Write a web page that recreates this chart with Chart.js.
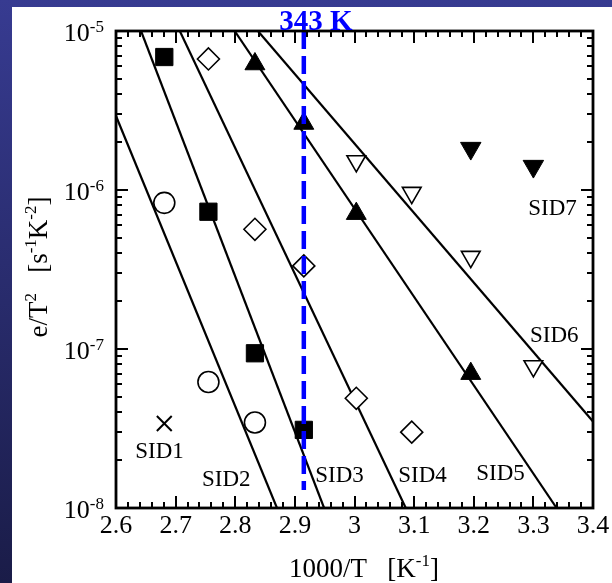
<!DOCTYPE html>
<html><head><meta charset="utf-8">
<script src="https://cdn.jsdelivr.net/npm/chart.js@4.4.0/dist/chart.umd.min.js"></script>
<style>html,body{margin:0;padding:0;background:#fff;overflow:hidden}#wrap{width:612px;height:583px;position:relative}</style>
</head><body><div id="wrap"><canvas id="c" width="612" height="583"></canvas></div>
<script>
// ---- data (x = 1000/T [1/K], y = e/T^2 [1/(s K^2)]) ----
const sid1X = [2.681];
const sid1Y = [3.4e-8];
const sid2X = [2.681, 2.755, 2.833];
const sid2Y = [8.3e-7, 6.2e-8, 3.45e-8];
const sid3X = [2.681, 2.755, 2.833, 2.915];
const sid3Y = [6.86e-6, 7.3e-7, 9.4e-8, 3.1e-8];
const sid4X = [2.755, 2.833, 2.915, 3.003, 3.096];
const sid4Y = [6.67e-6, 5.66e-7, 3.33e-7, 4.9e-8, 3.0e-8];
const sid5X = [2.833, 2.915, 3.003, 3.195];
const sid5Y = [6.2e-6, 2.62e-6, 7.1e-7, 7.0e-8];
const sid6X = [3.003, 3.096, 3.195, 3.300];
const sid6Y = [1.52e-6, 9.6e-7, 3.8e-7, 7.8e-8];
const sid7X = [3.195, 3.300];
const sid7Y = [1.83e-6, 1.41e-6];
// fitted lines
const fit2X = [2.6, 2.87];   const fit2Y = [2.92e-6, 1e-8];
const fit3X = [2.642, 2.949]; const fit3Y = [1e-5, 1e-8];
const fit4X = [2.707, 3.086]; const fit4Y = [1e-5, 1e-8];
const fit5X = [2.799, 3.339]; const fit5Y = [1e-5, 1e-8];
const fit6X = [2.838, 3.4];   const fit6Y = [1e-5, 3.5e-8];
// 343 K marker line
const markX = [2.915, 2.915]; const markY = [1e-5, 1.3e-8];
// axis ticks
const xTickVals = [2.6, 2.7, 2.8, 2.9, 3.0, 3.1, 3.2, 3.3, 3.4];
const xTickLabels = ['2.6', '2.7', '2.8', '2.9', '3', '3.1', '3.2', '3.3', '3.4'];
const yDecades = [-8, -7, -6, -5];
// text annotations (data coordinates)
const noteText = ['SID1', 'SID2', 'SID3', 'SID4', 'SID5', 'SID6', 'SID7'];
const noteX = [2.673, 2.785, 2.975, 3.114, 3.245, 3.335, 3.332];
const noteY = [2.32e-8, 1.54e-8, 1.64e-8, 1.64e-8, 1.69e-8, 1.24e-7, 7.85e-7];

const pts = (xs, ys) => xs.map((x, i) => ({x: x, y: ys[i]}));
const FONT = "'Liberation Serif', 'Times New Roman', serif";

function lineDs(xs, ys) {
  return {data: pts(xs, ys), showLine: true, borderColor: '#000', borderWidth: 2.2,
          pointRadius: 0, fill: false, order: 2};
}
function markDs(xs, ys, style, r, bg, bw, rot) {
  return {data: pts(xs, ys), showLine: false, pointStyle: style, pointRadius: r,
          pointBackgroundColor: bg, pointBorderColor: '#000', pointBorderWidth: bw,
          pointRotation: rot || 0, order: 1};
}

function rich(ctx, parts, x, y, align) {
  let w = 0;
  parts.forEach(p => { ctx.font = p[1] + 'px ' + FONT; w += ctx.measureText(p[0]).width; });
  let cx = align === 'right' ? x - w : (align === 'center' ? x - w / 2 : x);
  ctx.textAlign = 'left';
  ctx.textBaseline = 'alphabetic';
  parts.forEach(p => {
    ctx.font = p[1] + 'px ' + FONT;
    ctx.fillText(p[0], cx, y + (p[2] || 0));
    cx += ctx.measureText(p[0]).width;
  });
}

const decor = {
  id: 'decor',
  beforeDraw(chart) {
    const ctx = chart.ctx;
    ctx.save();
    const g = ctx.createLinearGradient(0, 0, 0, 583);
    g.addColorStop(0, '#373b91');
    g.addColorStop(1, '#1a1c48');
    ctx.fillStyle = g;
    ctx.fillRect(0, 0, 612, 583);
    ctx.fillStyle = '#ffffff';
    ctx.fillRect(12, 7, 600, 576);
    ctx.restore();
  },
  afterDraw(chart) {
    const ctx = chart.ctx;
    const xs = chart.scales.x, ys = chart.scales.y;
    const a = chart.chartArea;
    ctx.save();
    ctx.strokeStyle = '#000';
    ctx.fillStyle = '#000';
    // ticks
    ctx.lineWidth = 2;
    ctx.beginPath();
    for (let k = 0; k <= 40; k++) {
      const v = 2.6 + k * 0.02;
      const px = Math.round(xs.getPixelForValue(v));
      const len = (k % 5 === 0) ? 12 : 6;
      ctx.moveTo(px, a.bottom); ctx.lineTo(px, a.bottom - len);
      ctx.moveTo(px, a.top); ctx.lineTo(px, a.top + len);
    }
    yDecades.forEach(d => {
      for (let m = 1; m <= 9; m++) {
        if (d === -5 && m > 1) break;
        const v = m * Math.pow(10, d);
        const py = Math.round(ys.getPixelForValue(v));
        const len = (m === 1) ? 12 : 6;
        ctx.moveTo(a.left, py); ctx.lineTo(a.left + len, py);
        ctx.moveTo(a.right, py); ctx.lineTo(a.right - len, py);
      }
    });
    ctx.stroke();
    // frame
    ctx.lineWidth = 2.8;
    ctx.strokeRect(a.left, a.top, a.right - a.left, a.bottom - a.top);
    // x tick labels
    ctx.textAlign = 'center';
    ctx.textBaseline = 'alphabetic';
    ctx.font = '26px ' + FONT;
    xTickVals.forEach((v, i) => {
      ctx.fillText(xTickLabels[i], xs.getPixelForValue(v), a.bottom + 25);
    });
    // y tick labels
    yDecades.forEach(d => {
      const py = ys.getPixelForValue(Math.pow(10, d));
      ctx.textAlign = 'right';
      ctx.font = '17px ' + FONT;
      const ex = '-' + Math.abs(d);
      ctx.fillText(ex, 104, py + 1);
      const ew = ctx.measureText(ex).width;
      ctx.font = '26px ' + FONT;
      ctx.fillText('10', 104 - ew, py + 10);
    });
    // axis titles
    rich(ctx, [['1000/T   [K', 27], ['-1', 17, -11], [']', 27]], 364, 577, 'center');
    ctx.save();
    ctx.translate(47, 267);
    ctx.rotate(-Math.PI / 2);
    rich(ctx, [['e/T', 27], ['2', 17, -11], ['   [s', 27], ['-1', 17, -11], ['K', 27], ['-2', 17, -11], [']', 27]], 0, 0, 'center');
    ctx.restore();
    // SID notes
    ctx.font = '23px ' + FONT;
    ctx.textAlign = 'center';
    ctx.textBaseline = 'alphabetic';
    noteText.forEach((t, i) => {
      ctx.fillText(t, xs.getPixelForValue(noteX[i]), ys.getPixelForValue(noteY[i]) + 8);
    });
    // 343 K
    ctx.fillStyle = '#0000ff';
    ctx.font = 'bold 29px ' + FONT;
    ctx.textAlign = 'center';
    ctx.fillText('343 K', xs.getPixelForValue(markX[0]) + 12, 30);
    ctx.restore();
  }
};

new Chart(document.getElementById('c'), {
  type: 'scatter',
  data: {
    datasets: [
      {data: pts(markX, markY), showLine: true, borderColor: '#0000ff', borderWidth: 4.5,
       borderDash: [18, 7], pointRadius: 0, order: 0},
      markDs(sid1X, sid1Y, 'crossRot', 10.5, '#000', 2),
      markDs(sid2X, sid2Y, 'circle', 10.5, '#fff', 1.6),
      markDs(sid3X, sid3Y, 'rect', 12.2, '#000', 1),
      markDs(sid4X, sid4Y, 'rectRot', 11, '#fff', 1.6),
      markDs(sid5X, sid5Y, 'triangle', 11.5, '#000', 1),
      markDs(sid6X, sid6Y, 'triangle', 10.8, '#fff', 1.6, 180),
      markDs(sid7X, sid7Y, 'triangle', 11.8, '#000', 1, 180),
      lineDs(fit2X, fit2Y),
      lineDs(fit3X, fit3Y),
      lineDs(fit4X, fit4Y),
      lineDs(fit5X, fit5Y),
      lineDs(fit6X, fit6Y)
    ]
  },
  options: {
    responsive: false,
    animation: false,
    devicePixelRatio: 1,
    layout: {padding: {left: 116, top: 31, right: 19, bottom: 75}},
    plugins: {legend: {display: false}, tooltip: {enabled: false}},
    scales: {
      x: {type: 'linear', min: 2.6, max: 3.4, display: false},
      y: {type: 'logarithmic', min: 1e-8, max: 1e-5, display: false}
    }
  },
  plugins: [decor]
});
</script></body></html>
